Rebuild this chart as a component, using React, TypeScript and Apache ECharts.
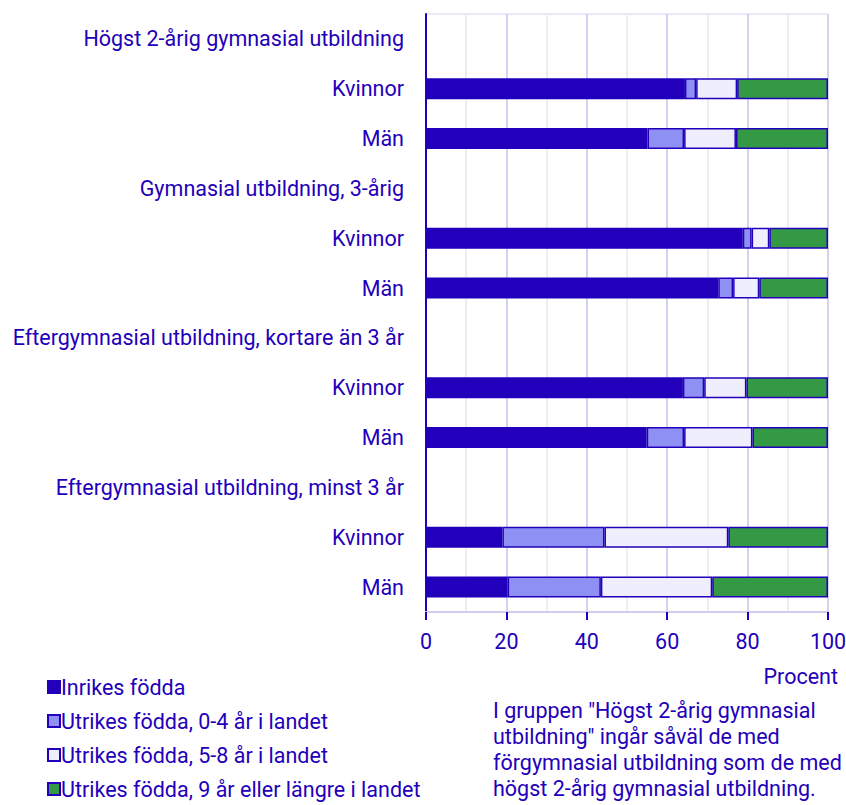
import React, { useEffect, useRef } from "react";
import * as echarts from "echarts";

const categories = [
  "Högst 2-årig gymnasial utbildning",
  "Kvinnor",
  "Män",
  "Gymnasial utbildning, 3-årig",
  "Kvinnor",
  "Män",
  "Eftergymnasial utbildning, kortare än 3 år",
  "Kvinnor",
  "Män",
  "Eftergymnasial utbildning, minst 3 år",
  "Kvinnor",
  "Män",
];

const seriesNames = [
  "Inrikes födda",
  "Utrikes födda, 0-4 år i landet",
  "Utrikes födda, 5-8 år i landet",
  "Utrikes födda, 9 år eller längre i landet",
];

const inrikes = [null, 64.4, 55.1, null, 78.8, 72.7, null, 63.9, 54.9, null, 19.0, 20.3];
const utrikes04 = [null, 2.8, 9.1, null, 2.2, 3.7, null, 5.3, 9.3, null, 25.4, 23.2];
const utrikes58 = [null, 10.2, 12.9, null, 4.4, 6.5, null, 10.5, 17.0, null, 30.8, 27.7];
const utrikes9 = [null, 22.6, 22.9, null, 14.6, 17.1, null, 20.3, 18.8, null, 24.8, 28.8];

const xTicks = [0, 20, 40, 60, 80, 100];

const noteLines = [
  'I gruppen "Högst 2-årig gymnasial',
  'utbildning" ingår såväl de med',
  "förgymnasial utbildning som de med",
  "högst 2-årig gymnasial utbildning.",
];

const colors = ["#2200bb", "#8f90f4", "#eeeefd", "#339944"];
const ink = "#2200bb";
const FONT = "Roboto";
const FS = 21.5;

export default function App() {
  const ref = useRef<HTMLDivElement>(null);
  useEffect(() => {
    document.body.style.margin = "0";
    if (!ref.current) return;
    const chart = echarts.init(ref.current, undefined, { renderer: "svg" });
    const dataSets = [inrikes, utrikes04, utrikes58, utrikes9];
    chart.setOption({
      animation: false,
      textStyle: { fontFamily: FONT, color: ink },
      grid: {
        left: 426,
        right: 18,
        top: 14,
        bottom: 193,
        outerBoundsMode: "none",
        containLabel: false,
        show: true,
        borderColor: "#d4d2f2",
        borderWidth: 1,
        backgroundColor: "transparent",
      },
      xAxis: {
        type: "value",
        min: xTicks[0],
        max: xTicks[xTicks.length - 1],
        interval: 20,
        axisLine: { show: true, lineStyle: { color: "#cfcdf0", width: 2 } },
        axisTick: { show: true, length: 8, lineStyle: { color: ink, width: 2 } },
        axisLabel: { color: ink, fontSize: FS, fontFamily: FONT, margin: 18 },
        splitLine: { show: true, lineStyle: { color: "#d4d2f2", width: 2 } },
        minorTick: { show: false, splitNumber: 2 },
        minorSplitLine: { show: true, lineStyle: { color: "#eeeeee", width: 2 } },
      },
      yAxis: {
        type: "category",
        inverse: true,
        data: categories,
        axisLine: { show: true, lineStyle: { color: ink, width: 2 } },
        axisTick: { show: false },
        axisLabel: { color: ink, fontSize: FS, fontFamily: FONT, margin: 22 },
        splitLine: { show: false },
      },
      legend: seriesNames.map((n, i) => ({
        orient: "vertical",
        left: 42,
        top: 671 + i * 34,
        itemWidth: 12,
        itemHeight: 12,
        icon: "rect",
        textStyle: { color: ink, fontSize: FS, fontFamily: FONT, padding: [0, 0, 0, -4] },
        data: [n],
        selectedMode: false,
      })),
      graphic: [
        {
          type: "text",
          right: 8,
          top: 665,
          style: { text: "Procent", fill: ink, font: `${FS}px ${FONT}` },
        },
        {
          type: "text",
          left: 493,
          top: 697,
          style: {
            text: noteLines.join("\n"),
            fill: ink,
            font: `${FS}px ${FONT}`,
            lineHeight: 26,
          },
        },
      ],
      series: dataSets.map((d, i) => ({
        name: seriesNames[i],
        type: "bar",
        stack: "total",
        barWidth: 21,
        data: d,
        itemStyle: { color: colors[i], borderColor: ink, borderWidth: 1.5 },
      })),
    });
    return () => chart.dispose();
  }, []);
  return <div ref={ref} style={{ width: 846, height: 805 }} />;
}
